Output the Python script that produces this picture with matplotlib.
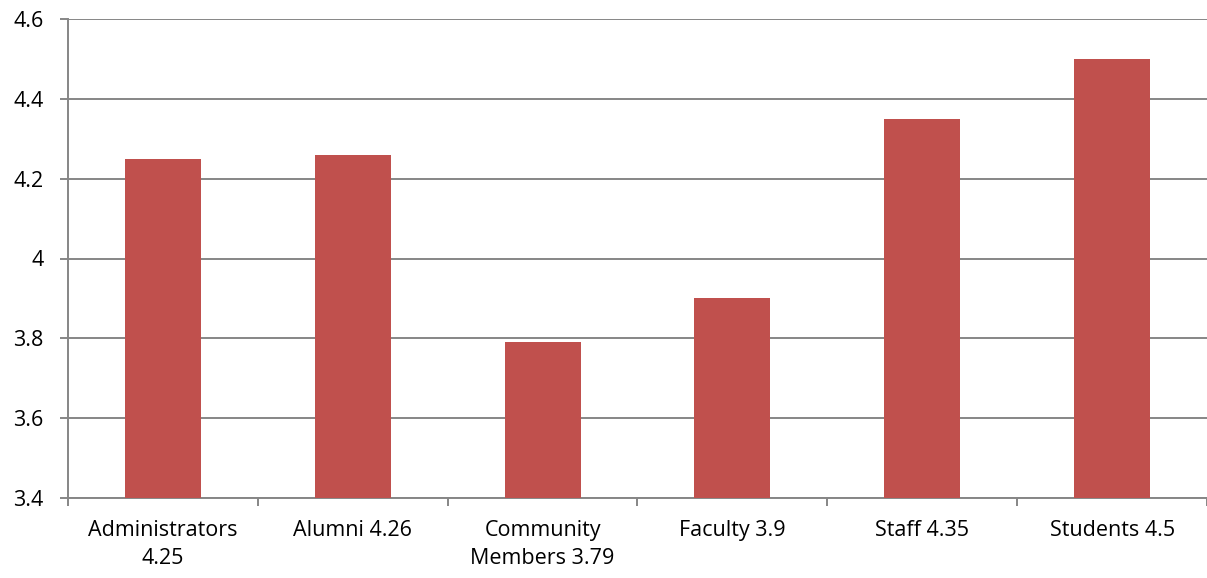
import matplotlib
matplotlib.use('Agg')
import matplotlib.pyplot as plt
import numpy as np

categories = ['Administrators\n4.25', 'Alumni 4.26', 'Community\nMembers 3.79',
              'Faculty 3.9', 'Staff 4.35', 'Students 4.5']
values = [4.25, 4.26, 3.79, 3.9, 4.35, 4.5]
yticks = [3.4, 3.6, 3.8, 4.0, 4.2, 4.4, 4.6]
ylabels = ['3.4', '3.6', '3.8', '4', '4.2', '4.4', '4.6']

plt.rcParams['font.family'] = ['Open Sans', 'DejaVu Sans']

fig = plt.figure(figsize=(12.07, 5.78), dpi=100)
ax = fig.add_axes([68/1207, 1-498/578, 1-68/1207, (498-19)/578])

x = np.arange(len(values))
ax.bar(x, np.array(values)-3.4, bottom=3.4, width=0.4, color='#C0504D', zorder=3)

ax.set_xlim(-0.5, len(values)-0.5)
ax.set_ylim(3.4, 4.6)
ax.set_yticks(yticks)
ax.set_yticklabels(ylabels, fontsize=15.5)
ax.yaxis.grid(True, color='#868686', linewidth=1.4, zorder=0)

ax.set_xticks(x)
ax.set_xticklabels(categories, fontsize=15.5, linespacing=1.45)
ax.tick_params(axis='x', length=0, pad=16)
ax.set_xticks(np.arange(len(values)+1)-0.5, minor=True)
ax.tick_params(axis='x', which='minor', length=5.5, color='#868686', width=1.4)
ax.tick_params(axis='y', length=5.8, color='#868686', width=1.4, pad=12)

for s in ['top', 'right']:
    ax.spines[s].set_visible(False)
for s in ['left', 'bottom']:
    ax.spines[s].set_color('#868686')
    ax.spines[s].set_linewidth(1.4)

fig.savefig('out.png', dpi=100)
